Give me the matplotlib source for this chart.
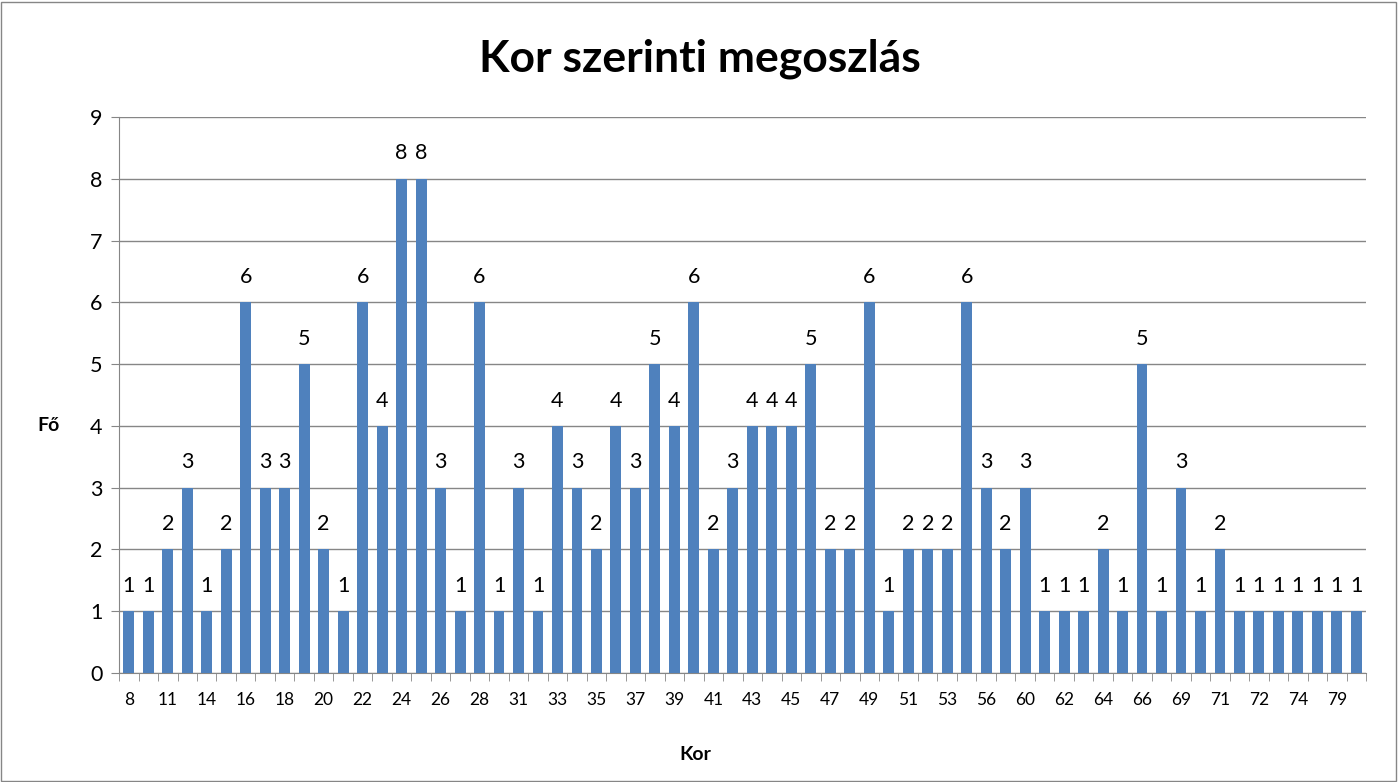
import matplotlib.pyplot as plt
from matplotlib.patches import Rectangle

plt.rcParams['font.family'] = ['Lato', 'DejaVu Sans']

# életkorok (minden második címke látszik)
kor = ['8', '10', '11', '12', '14', '15', '16', '17', '18', '19', '20', '21',
       '22', '23', '24', '25', '26', '27', '28', '30', '31', '32', '33', '34',
       '35', '36', '37', '38', '39', '40', '41', '42', '43', '44', '45', '46',
       '47', '48', '49', '50', '51', '52', '53', '55', '56', '58', '60', '61',
       '62', '63', '64', '65', '66', '68', '69', '70', '71', '71+', '72', '73',
       '74', '76', '79', '80']
fo = [1, 1, 2, 3, 1, 2, 6, 3, 3, 5, 2, 1,
      6, 4, 8, 8, 3, 1, 6, 1, 3, 1, 4, 3,
      2, 4, 3, 5, 4, 6, 2, 3, 4, 4, 4, 5,
      2, 2, 6, 1, 2, 2, 2, 6, 3, 2, 3, 1,
      1, 1, 2, 1, 5, 1, 3, 1, 2, 1, 1, 1,
      1, 1, 1, 1]

fig = plt.figure(figsize=(13.99, 7.82), dpi=100)
ax = fig.add_axes([0.0851, 0.1394, 0.8914, 0.711])

x = list(range(len(kor)))
bars = ax.bar(x, fo, width=0.56, color='#4F81BD', zorder=3)
for xi, v in zip(x, fo):
    ax.annotate(str(v), (xi, v), xytext=(0, 11), textcoords='offset points',
                ha='center', va='bottom', fontsize=15.5)

ax.set_xlim(-0.5, len(kor) - 0.5)
ax.set_ylim(0, 9)
ax.set_yticks(range(10))
ax.yaxis.grid(True, color='#868686', linewidth=1, zorder=0)

ax.set_xticks([i for i in x if i % 2 == 0])
ax.set_xticklabels([k for i, k in enumerate(kor) if i % 2 == 0], fontsize=12.5)
ax.set_xticks([i - 0.5 for i in range(len(kor) + 1)], minor=True)
ax.tick_params(axis='x', which='major', length=0, pad=14)
ax.tick_params(axis='x', which='minor', length=6, color='#868686')
ax.tick_params(axis='y', labelsize=15.5, length=6, color='#868686', pad=6)

for s in ['top', 'right']:
    ax.spines[s].set_visible(False)
for s in ['left', 'bottom']:
    ax.spines[s].set_color('#868686')

fig.text(0.5, 0.925, 'Kor szerinti megoszlás', ha='center', va='center',
         fontsize=32, fontweight='bold')
fig.text(0.035, 0.456, 'Fő', ha='center', va='center', fontsize=14, fontweight='bold')
fig.text(0.497, 0.035, 'Kor', ha='center', va='center', fontsize=14, fontweight='bold')

fig.patches.append(Rectangle((0.001, 0.001), 0.997, 0.997, transform=fig.transFigure,
                             fill=False, edgecolor='#868686', linewidth=1))

fig.savefig('out.png', dpi=100)
